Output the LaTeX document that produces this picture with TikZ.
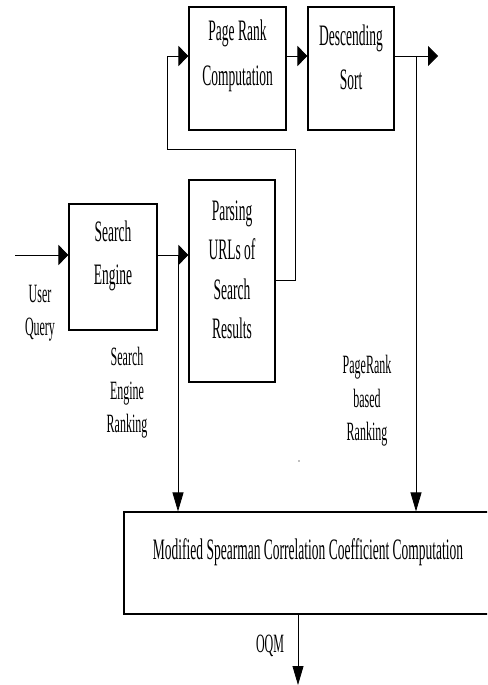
\documentclass[tikz,border=0pt]{standalone}
\usepackage{fontspec}
\setmainfont{Liberation Serif}
\usetikzlibrary{arrows.meta}
\newcommand\tl[1]{\scalebox{1}[2.2]{#1}}
\begin{document}
\begin{tikzpicture}[x=1pt,y=-1pt,
  box/.style={draw,line width=1.1pt,inner sep=0pt,minimum width=#1},
  boxtext/.style={align=center,inner sep=0pt,font=\fontsize{13.5}{#1}\selectfont},
  labtext/.style={align=center,inner sep=0pt,font=\fontsize{12}{33.5}\selectfont},
  link/.style={line width=0.8pt},
  harr/.style={link,-{Triangle[length=10pt,width=20pt]}},
  varr/.style={link,-{Triangle[length=19pt,width=11pt]}}]
\useasboundingbox (0,0) rectangle (487,685);
\clip (0,0) rectangle (487,685);
% boxes
\node[box=97,minimum height=123] (pr) at (237.5,68.5) {};
\node[box=86,minimum height=123] (ds) at (351,68.5) {};
\node[box=86,minimum height=202] (parse) at (232,281) {};
\node[box=88,minimum height=126] (se) at (113,267) {};
\node[box=368,minimum height=102] (mod) at (308,563) {};
% box texts
\node[boxtext=45] (prt) at (237.5,56) {\tl{Page Rank}\\\tl{Computation}};
\node[boxtext=44] (dst) at (351,57) {\tl{Descending}\\\tl{Sort}};
\node[boxtext=39.5] (parset) at (232,270) {\tl{Parsing}\\\tl{URLs of}\\\tl{Search}\\\tl{Results}};
\node[boxtext=43] (set) at (113,256) {\tl{Search}\\\tl{Engine}};
\node[boxtext=20] (modt) at (308,552) {\tl{Modified Spearman Correlation Coefficient Computation}};
% labels
\node[labtext] (uql) at (40,313) {\tl{User}\\\tl{Query}};
\node[labtext] (serl) at (127,393) {\tl{Search}\\\tl{Engine}\\\tl{Ranking}};
\node[labtext] (prl) at (367,401) {\tl{PageRank}\\\tl{based}\\\tl{Ranking}};
\node[labtext] (oqml) at (270,646) {\tl{OQM}};
% coordinates
\coordinate (uq) at (15,255);
\coordinate (j1) at (178,255);
\coordinate (fb1) at (295,280);
\coordinate (fb2) at (295,149);
\coordinate (fb3) at (167,149);
\coordinate (fb4) at (167,56);
\coordinate (out) at (438,56);
\coordinate (j2) at (416,56);
\coordinate (oqmtop) at (298,614);
\coordinate (oqmend) at (298,685);
% connectors
\draw[harr] (uq) -- (uq -| se.west);
\draw[harr] (se.east |- uq) -- (parse.west |- uq);
\draw[varr] (j1) -- (j1 |- mod.north);
\draw[harr] (parse.east |- fb1) -- (fb1) -- (fb2) -- (fb3) -- (fb4) -- (fb4 -| pr.west);
\draw[harr] (pr.east |- fb4) -- (ds.west |- fb4);
\draw[harr] (ds.east |- fb4) -- (out);
\draw[varr] (j2) -- (j2 |- mod.north);
\draw[varr] (oqmtop) -- (oqmend);
\fill[gray] (299,461) circle (0.8);
\end{tikzpicture}
\end{document}
